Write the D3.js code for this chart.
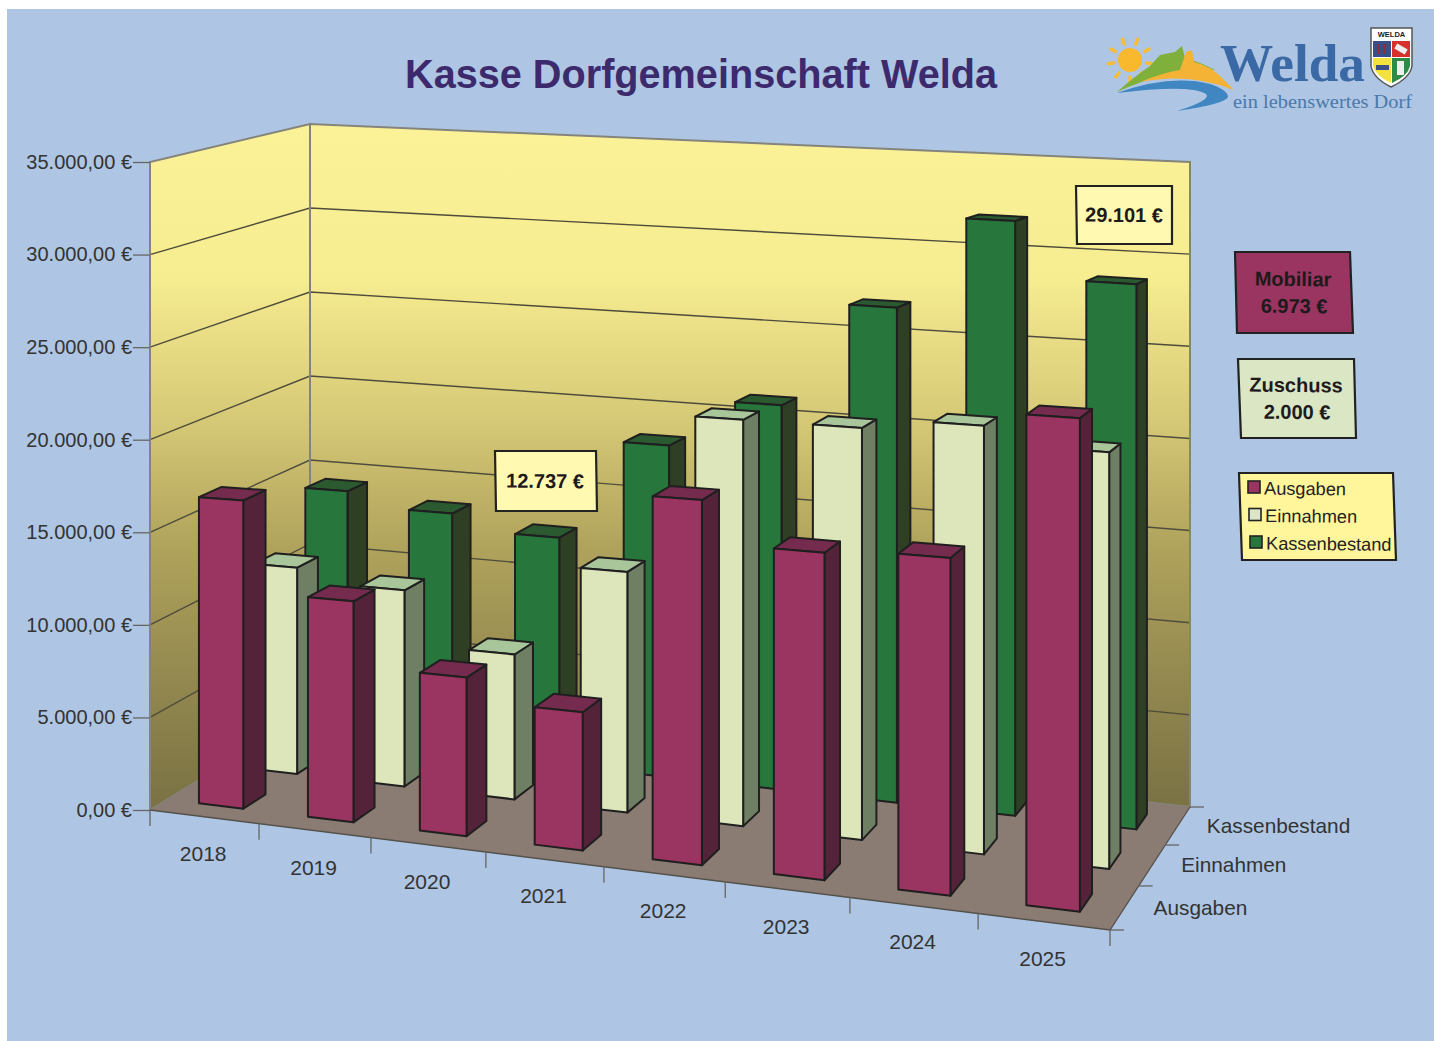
<!DOCTYPE html>
<html>
<head>
<meta charset="utf-8">
<title>Kasse Dorfgemeinschaft Welda</title>
<script src="https://cdn.jsdelivr.net/npm/d3@7"></script>
<style>
    html, body { margin: 0; padding: 0; background: #fff; }
    svg { display: block; }
    text { font-family: "Liberation Sans", Arial, sans-serif; }
    text.serif { font-family: "Liberation Serif", serif; }
</style>
</head>
<body>
<svg id="chart"></svg>
<script>
const jahre = ['2018', '2019', '2020', '2021', '2022', '2023', '2024', '2025']
const reihen = ['Ausgaben', 'Einnahmen', 'Kassenbestand']
const ausgaben = [16600, 11700, 8260, 7080, 18400, 16250, 16500, 23750]
const einnahmen = [11480, 10750, 7820, 12800, 21300, 21300, 21850, 20950]
const kassenbestand = [14400, 13600, 12737, 18350, 21000, 26700, 31700, 28700]
const yTicks = [0, 5000, 10000, 15000, 20000, 25000, 30000, 35000]

const width = 1434
const height = 1041
const svg = d3.select('svg').attr('width', width).attr('height', height)

const kleuren = {
    Ausgaben: { front: '#9a3460', side: '#54233a', top: '#752b4e' },
    Einnahmen: { front: '#dde6bb', side: '#6f7f64', top: '#a9c69b' },
    Kassenbestand: { front: '#27773c', side: '#2f3f23', top: '#2b5a30' }
}
const waarden = { Ausgaben: ausgaben, Einnahmen: einnahmen, Kassenbestand: kassenbestand }

// vloer: homografie van eenheidsvierkant naar de vier hoeken in beeld
const vloer = [[150, 810], [1110, 930], [1190, 807], [310, 712]]
const hoogtes = [648, 740, 645, 588]
const [p0, p1, p2, p3] = vloer
const dx1 = p1[0] - p2[0], dx2 = p3[0] - p2[0], sx = p0[0] - p1[0] + p2[0] - p3[0]
const dy1 = p1[1] - p2[1], dy2 = p3[1] - p2[1], sy = p0[1] - p1[1] + p2[1] - p3[1]
const det = dx1 * dy2 - dx2 * dy1
const g = (sx * dy2 - dx2 * sy) / det
const h = (dx1 * sy - sx * dy1) / det
const a = p1[0] - p0[0] + g * p1[0], b = p3[0] - p0[0] + h * p3[0]
const d = p1[1] - p0[1] + g * p1[1], e = p3[1] - p0[1] + h * p3[1]

const yScale = d3.scaleLinear().domain([0, 35000]).range([0, 1])
const xBand = d3.scaleBand().domain(jahre).range([0, 1]).paddingInner(.59).paddingOuter(.295)
const xRand = d3.scaleBand().domain(jahre).range([0, 1])
const zBand = d3.scaleBand().domain(reihen).range([0, 1]).paddingInner(.595).paddingOuter(.2975)
const zRand = d3.scaleBand().domain(reihen).range([0, 1])

function punt(t, v, waarde) {
    // kleine correctie: de jaren liggen in het plaatje iets gelijkmatiger
    const u = t + .024 * t * (1 - t)
    const w = g * u + h * v + 1
    const x = (a * u + b * v + p0[0]) / w
    const y = (d * u + e * v + p0[1]) / w
    const k = hoogtes[0] * (1 - u) * (1 - v) + hoogtes[1] * u * (1 - v) + hoogtes[2] * u * v + hoogtes[3] * (1 - u) * v
    return [x, y - k * yScale(waarde || 0)]
}

const vlak = d3.line().curve(d3.curveLinearClosed)

const defs = svg.append('defs')
const verloop = defs.append('linearGradient')
    .attr('id', 'wand')
    .attr('gradientUnits', 'userSpaceOnUse')
    .attr('x1', 0).attr('x2', 0).attr('y1', 130).attr('y2', 800)
const stops = [[0, '#fbf298'], [.22, '#f6ec90'], [.42, '#d8cb78'], [.62, '#b0a35c'], [.82, '#93884f'], [1, '#7b7344']]
stops.forEach(s => verloop.append('stop').attr('offset', s[0]).attr('stop-color', s[1]))

// achtergrond
svg.append('rect').attr('x', 7).attr('y', 9).attr('width', width - 7).attr('height', height - 9).attr('fill', '#aec6e3')

maakWanden()
maakAssen()
maakBalken()
maakKaders()
maakLogo()

svg.append('text')
    .attr('x', 701).attr('y', 88)
    .attr('text-anchor', 'middle')
    .attr('font-size', 40).attr('font-weight', 'bold')
    .attr('textLength', 592).attr('lengthAdjust', 'spacingAndGlyphs')
    .attr('fill', '#3c2a6c')
    .text('Kasse Dorfgemeinschaft Welda')

function maakWanden() {
    const top = yTicks[yTicks.length - 1]
    const muren = [
        [punt(0, 0), punt(0, 1), punt(0, 1, top), punt(0, 0, top)],
        [punt(0, 1), punt(1, 1), punt(1, 1, top), punt(0, 1, top)]
    ]
    svg.selectAll('.wand').data(muren).enter().append('path')
        .attr('class', 'wand')
        .attr('d', vlak)
        .attr('fill', 'url(#wand)')

    // rasterlijnen links en achter
    const lijn = d3.line()
    svg.selectAll('.raster').data(yTicks.filter(t => t > 0 && t < top)).enter().append('path')
        .attr('class', 'raster')
        .attr('d', t => lijn([punt(0, 0, t), punt(0, 1, t), punt(1, 1, t)]))
        .attr('fill', 'none')
        .attr('stroke', '#4f4c3c').attr('stroke-width', 1.4)

    svg.selectAll('.wandrand').data(muren).enter().append('path')
        .attr('class', 'wandrand')
        .attr('d', vlak)
        .attr('fill', 'none')
        .attr('stroke', '#85847c').attr('stroke-width', 2)

    svg.append('path')
        .attr('d', vlak([punt(0, 0), punt(1, 0), punt(1, 1), punt(0, 1)]))
        .attr('fill', '#8a7b73')
}

function maakAssen() {
    const yAs = d3.scaleLinear().domain([0, 35000]).range([punt(0, 0)[1], punt(0, 0, 35000)[1]])
    const duits = d3.formatLocale({ decimal: ',', thousands: '.', grouping: [3], currency: ['', ' €'] })
    const as = d3.axisLeft(yAs)
        .tickValues(yTicks)
        .tickSize(17)
        .tickPadding(1)
        .tickFormat(t => duits.format(',.2f')(t) + ' €')
    const asGroep = svg.append('g').attr('transform', 'translate(150,0)').call(as)
    asGroep.select('.domain').remove()
    asGroep.selectAll('line').attr('stroke', '#666').attr('stroke-width', 1.3)
    asGroep.selectAll('text').attr('font-size', 20).attr('font-family', '"Liberation Sans", Arial, sans-serif').attr('fill', '#333')

    // rand voorkant en rechts
    svg.append('path')
        .attr('d', d3.line()([punt(0, 0), punt(1, 0), punt(1, 1)]))
        .attr('fill', 'none').attr('stroke', '#55504a').attr('stroke-width', 1.3)

    const xTicks = d3.range(jahre.length + 1).map(i => i / jahre.length)
    svg.selectAll('.xtick').data(xTicks).enter().append('line')
        .attr('class', 'xtick')
        .attr('x1', t => punt(t, 0)[0]).attr('x2', t => punt(t, 0)[0])
        .attr('y1', t => punt(t, 0)[1]).attr('y2', t => punt(t, 0)[1] + 16)
        .attr('stroke', '#666').attr('stroke-width', 1.3)

    const zTicks = d3.range(reihen.length + 1).map(i => i / reihen.length)
    svg.selectAll('.ztick').data(zTicks).enter().append('line')
        .attr('class', 'ztick')
        .attr('x1', t => punt(1, t)[0]).attr('x2', t => punt(1, t)[0] + 14)
        .attr('y1', t => punt(1, t)[1]).attr('y2', t => punt(1, t)[1])
        .attr('stroke', '#666').attr('stroke-width', 1.3)

    svg.selectAll('.jaar').data(jahre).enter().append('text')
        .attr('class', 'jaar')
        .attr('x', j => punt(xRand(j) + xRand.bandwidth() / 2, 0)[0] - 1)
        .attr('y', j => punt(xRand(j) + xRand.bandwidth() / 2, 0)[1] + 44)
        .attr('text-anchor', 'middle')
        .attr('font-size', 21).attr('fill', '#333')
        .text(j => j)

    svg.selectAll('.reihe').data(reihen).enter().append('text')
        .attr('class', 'reihe')
        .attr('x', r => punt(1, zRand(r) + zRand.bandwidth() / 2)[0] + 29)
        .attr('y', r => punt(1, zRand(r) + zRand.bandwidth() / 2)[1] + 7)
        .attr('font-size', 20.8).attr('fill', '#333')
        .text(r => r)
}

function maakBalken() {
    // van achter naar voor tekenen
    reihen.slice().reverse().forEach(reihe => {
        jahre.forEach((jaar, i) => {
            const waarde = waarden[reihe][i]
            const u0 = xBand(jaar), u1 = u0 + xBand.bandwidth()
            const v0 = zBand(reihe), v1 = v0 + zBand.bandwidth()
            const kleur = kleuren[reihe]
            const groep = svg.append('g')
                .attr('stroke', '#1f1f1f').attr('stroke-width', 2).attr('stroke-linejoin', 'round')
            groep.append('path')
                .attr('d', vlak([punt(u1, v0), punt(u1, v1), punt(u1, v1, waarde), punt(u1, v0, waarde)]))
                .attr('fill', kleur.side)
            groep.append('path')
                .attr('d', vlak([punt(u0, v0, waarde), punt(u1, v0, waarde), punt(u1, v1, waarde), punt(u0, v1, waarde)]))
                .attr('fill', kleur.top)
            groep.append('path')
                .attr('d', vlak([punt(u0, v0), punt(u1, v0), punt(u1, v0, waarde), punt(u0, v0, waarde)]))
                .attr('fill', kleur.front)
        })
    })
}

function maakKaders() {
    const kader = (hoeken, vulling) => svg.append('path')
        .attr('d', vlak(hoeken))
        .attr('fill', vulling)
        .attr('stroke', '#222').attr('stroke-width', 2.2)

    const label = (x, y, tekst, opties) => svg.append('text')
        .attr('x', x).attr('y', y)
        .attr('text-anchor', (opties && opties.anchor) || 'middle')
        .attr('font-size', (opties && opties.size) || 20)
        .attr('font-weight', opties && opties.normal ? 'normal' : 'bold')
        .attr('fill', (opties && opties.fill) || '#1e1a1c')
        .attr('transform', `rotate(.6 ${x} ${y})`)
        .text(tekst)

    kader([[1076, 186], [1172, 186], [1172, 244], [1077, 244]], '#fff9b2')
    label(1124, 222, '29.101 €')
    kader([[495, 451], [596, 451], [597, 511], [496, 511]], '#fff9b2')
    label(545, 488, '12.737 €')

    kader([[1235, 252], [1350, 252], [1353, 333], [1237, 333]], '#9a3460')
    label(1293, 286, 'Mobiliar')
    label(1294, 313, '6.973 €')

    kader([[1238, 359], [1354, 359], [1356, 438], [1241, 438]], '#dae6c4')
    label(1296, 392, 'Zuschuss')
    label(1297, 419, '2.000 €')

    kader([[1239, 473], [1393, 473], [1396, 560], [1242, 560]], '#fff59a')
    reihen.forEach((reihe, i) => {
        const ry = 488 + i * 27.5
        svg.append('rect')
            .attr('x', 1248 + i).attr('y', ry - 7).attr('width', 12).attr('height', 12)
            .attr('fill', i === 1 ? '#dae6c4' : kleuren[reihe].front)
            .attr('stroke', '#222').attr('stroke-width', 1.6)
        label(1264 + i, ry + 6.5, reihe, { anchor: 'start', size: 18.2, normal: true, fill: '#222' })
    })
}

function maakLogo() {
    const logo = svg.append('g')
    // zon
    d3.range(9).forEach(i => {
        const hoek = (i * 40 + 70) * Math.PI / 180
        logo.append('line')
            .attr('x1', 1130 + 17 * Math.cos(hoek)).attr('y1', 60 - 17 * Math.sin(hoek))
            .attr('x2', 1130 + 22 * Math.cos(hoek)).attr('y2', 60 - 22 * Math.sin(hoek))
            .attr('stroke', '#f7bd34').attr('stroke-width', 3.5).attr('stroke-linecap', 'round')
    })
    logo.append('circle').attr('cx', 1130).attr('cy', 60).attr('r', 12).attr('fill', '#f9b92e')
    // heuvels
    logo.append('path')
        .attr('d', 'M1117,92 Q1135,76 1150,66 L1160,55 L1175,52 L1182,46 L1185,58 Q1200,62 1215,70 Q1170,68 1117,92Z')
        .attr('fill', '#7fb03c')
    logo.append('path')
        .attr('d', 'M1140,82 Q1165,72 1180,70 L1186,52 L1192,50 L1194,62 Q1210,66 1220,76 L1234,90 Q1190,72 1140,82Z')
        .attr('fill', '#f5b335')
    logo.append('path')
        .attr('d', 'M1117,93 Q1170,74 1210,84 Q1228,90 1228,97 Q1225,104 1177,111 Q1212,100 1206,94 Q1190,84 1117,93Z')
        .attr('fill', '#3f86c2')
    // tekst
    logo.append('text')
        .attr('class', 'serif')
        .attr('x', 1220).attr('y', 81)
        .attr('textLength', 145).attr('lengthAdjust', 'spacingAndGlyphs')
        .attr('font-size', 52).attr('font-weight', 'bold')
        .attr('fill', '#3a69a6')
        .text('Welda')
    logo.append('text')
        .attr('class', 'serif')
        .attr('x', 1233).attr('y', 108)
        .attr('textLength', 179).attr('lengthAdjust', 'spacingAndGlyphs')
        .attr('font-size', 18)
        .attr('fill', '#4a78ab')
        .text('ein lebenswertes Dorf')
    // wapen
    logo.append('path')
        .attr('d', 'M1371,28 L1412,28 L1412,66 Q1410,78 1391,87 Q1373,78 1371,66Z')
        .attr('fill', '#fff').attr('stroke', '#555').attr('stroke-width', 1.5)
    logo.append('text')
        .attr('x', 1391.5).attr('y', 37)
        .attr('text-anchor', 'middle')
        .attr('font-size', 7.5).attr('font-weight', 'bold').attr('fill', '#222')
        .text('WELDA')
    logo.append('rect').attr('x', 1373).attr('y', 41).attr('width', 18).attr('height', 16).attr('fill', '#3a4f86')
    logo.append('rect').attr('x', 1392).attr('y', 41).attr('width', 18).attr('height', 16).attr('fill', '#d8302c')
    logo.append('path').attr('d', 'M1373,58 L1391,58 L1391,83 Q1376,76 1373,66Z').attr('fill', '#f4e23c')
    logo.append('path').attr('d', 'M1392,58 L1410,58 L1410,66 Q1408,76 1392,83Z').attr('fill', '#2f8a45')
    logo.append('rect').attr('x', 1397).attr('y', 61).attr('width', 7).attr('height', 14).attr('fill', '#eee')
    logo.append('rect').attr('x', 1376).attr('y', 65).attr('width', 13).attr('height', 5).attr('fill', '#3a4f86')
    logo.append('rect').attr('x', 1395).attr('y', 46).attr('width', 12).attr('height', 6).attr('fill', '#eee').attr('transform', 'rotate(30 1401 49)')
    logo.append('rect').attr('x', 1377).attr('y', 44).attr('width', 3).attr('height', 10).attr('fill', '#8c2f3a')
    logo.append('rect').attr('x', 1383).attr('y', 44).attr('width', 3).attr('height', 10).attr('fill', '#8c2f3a')
}
</script>
</body>
</html>
